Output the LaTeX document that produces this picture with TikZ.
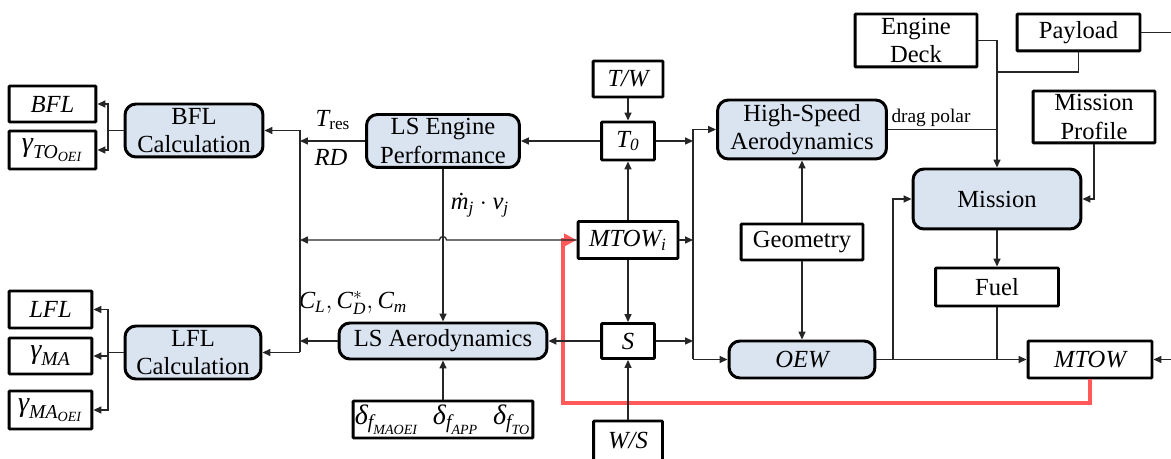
\documentclass[tikz,border=0pt]{standalone}
\usepackage{amsmath}
\usepackage{fontspec}
\setmainfont{Liberation Serif}
\usepackage{tikz}
\usetikzlibrary{arrows.meta}
\definecolor{boxblue}{RGB}{218,227,240}
\newcommand{\vr}[1]{\textit{#1}}

\begin{document}
\begin{tikzpicture}[x=0.02cm, y=-0.02cm,
    every node/.style={font=\fontsize{14}{16}\selectfont, inner sep=1pt, align=center},
    blk/.style={draw, line width=1.7pt, fill=white, rounded corners=0.5pt},
    calcbox/.style={draw, line width=1.7pt, fill=boxblue, rounded corners=0.22cm},
    greek/.style={font=\fontsize{16}{18}\selectfont},
    link/.style={line width=0.7pt, draw=black!85},
    feedback/.style={draw=red!65, line width=2.6pt, -{Triangle[length=7pt,width=7pt]}},
    >={Triangle[length=4.5pt,width=4pt]}]
    \useasboundingbox (0,0) rectangle (1171,459);
    \node[blk, minimum width=1.74cm, minimum height=0.72cm] (bfl) at (52.5,104) {$\vr{BFL}$};
    \node[blk, greek, minimum width=1.74cm, minimum height=0.76cm] (gto) at (52.5,150) {$\vr{γ}_{\vr{TO}_{\vr{OEI}}}$};
    \node[calcbox, minimum width=2.76cm, minimum height=1.06cm] (bflcalc) at (194,130.5) {BFL\\Calculation};
    \node[blk, minimum width=1.66cm, minimum height=0.74cm] (lfl) at (50.5,309.5) {$\vr{LFL}$};
    \node[blk, greek, minimum width=1.66cm, minimum height=0.72cm] (gma) at (50.5,356) {$\vr{γ}_{\vr{MA}}$};
    \node[blk, greek, minimum width=1.66cm, minimum height=0.76cm] (gmaoei) at (50.5,410) {$\vr{γ}_{\vr{MA}_{\vr{OEI}}}$};
    \node[calcbox, minimum width=2.72cm, minimum height=1.06cm] (lflcalc) at (193,352.5) {LFL\\Calculation};
    \node[calcbox, minimum width=3.06cm, minimum height=1.06cm] (lseng) at (443,141) {LS Engine\\Performance};
    \node[calcbox, minimum width=4.16cm, minimum height=0.72cm] (lsaero) at (443,341) {LS Aerodynamics};
    \node[blk, greek, minimum width=3.44cm, minimum height=0.74cm] (delta) at (443,419.5)
        {$\vr{δ}_{\vr{f}_{\vr{MAOEI}}}\enspace \vr{δ}_{\vr{f}_{\vr{APP}}}\enspace \vr{δ}_{\vr{f}_{\vr{TO}}}$};
    \node[blk, minimum width=1.40cm, minimum height=0.72cm] (tw) at (628,79) {$\vr{T/W}$};
    \node[blk, minimum width=1.06cm, minimum height=0.76cm] (t0) at (628,141) {$\vr{T}_{\vr{0}}$};
    \node[blk, minimum width=2.00cm, minimum height=0.74cm] (mtowi) at (628,240) {$\vr{MTOW}_{\vr{i}}$};
    \node[blk, minimum width=1.06cm, minimum height=0.70cm] (s) at (628,341) {$\vr{S}$};
    \node[blk, minimum width=1.38cm, minimum height=0.80cm] (ws) at (628,441) {$\vr{W/S}$};
    \node[calcbox, minimum width=3.38cm, minimum height=1.18cm] (hsa) at (802,129.5) {High-Speed\\Aerodynamics};
    \node[blk, minimum width=2.44cm, minimum height=0.72cm] (geom) at (802,242) {Geometry};
    \node[calcbox, minimum width=2.92cm, minimum height=0.74cm] (oew) at (802,359.5) {$\vr{OEW}$};
    \node[calcbox, minimum width=3.36cm, minimum height=1.20cm] (mission) at (997,199) {Mission};
    \node[blk, minimum width=2.46cm, minimum height=0.76cm] (fuel) at (997,287) {Fuel};
    \node[blk, minimum width=2.48cm, minimum height=0.74cm] (mtow) at (1090,359.5) {$\vr{MTOW}$};
    \node[blk, minimum width=2.44cm, minimum height=1.06cm] (deck) at (916,40.5) {Engine\\Deck};
    \node[blk, minimum width=2.46cm, minimum height=0.74cm] (payload) at (1078.5,32.5) {Payload};
    \node[blk, minimum width=2.44cm, minimum height=1.04cm] (profile) at (1094,117) {Mission\\Profile};
    \node (tres) at (333,120) {$\vr{T}_{\textup{res}}$};
    \node (rd) at (331,157) {$\vr{RD}$};
    \node (mjvj) at (480,205) {$\vr{ṁ}_{\vr{j}}\cdot \vr{v}_{\vr{j}}$};
    \node (coef) at (353,303) {$\vr{C}_{\vr{L}},\vr{C}_{\vr{D}}^{*},\vr{C}_{\vr{m}}$};
    \node[font=\fontsize{11}{13}\selectfont] (drag) at (931,118) {drag polar};
    \coordinate (jb) at (108,130.5);
    \coordinate (jl) at (108,352.5);
    \coordinate (busT) at (300,130.5);
    \coordinate (busB) at (300,352.5);
    \coordinate (busR) at (693,129.5);
    \coordinate (busRB) at (693,359.5);
    \coordinate (hopR) at (446.5,240);
    \coordinate (jp) at (997,72);
    \coordinate (jo) at (893,359.5);
    \coordinate (pr) at (1171,32.5);
    \coordinate (mr) at (1171,359.5);
    \coordinate (rc) at (563,403);
    \draw[feedback] (mtow.south) |- (rc) |- (mtowi.west);
    \draw[link] (bflcalc.west) -- (jb);
    \draw[link,->] (jb) |- (bfl.east);
    \draw[link,->] (jb) |- (gto.east);
    \draw[link] (lflcalc.west) -- (jl);
    \draw[link,->] (jl) |- (lfl.east);
    \draw[link,->] (jl) |- (gma.east);
    \draw[link,->] (jl) |- (gmaoei.east);
    \draw[link] (busT) -- (busB);
    \draw[link,->] (busT) -- (bflcalc.east);
    \draw[link,->] (busB) -- (lflcalc.east);
    \draw[link,->] (lseng.west) -- (lseng.west -| busT);
    \draw[link,->] (lsaero.west) -- (lsaero.west -| busT);
    \draw[link,->] (mtowi.west) -- (hopR) arc[start angle=0, end angle=180, radius=2pt] -- (mtowi.west -| busT);
    \draw[link,->] (lseng.south) -- (lsaero.north);
    \draw[link,->] (delta.north) -- (lsaero.south);
    \draw[link,->] (t0.west) -- (lseng.east);
    \draw[link,->] (tw.south) -- (t0.north);
    \draw[link,->] (mtowi.north) -- (t0.south);
    \draw[link,->] (mtowi.south) -- (s.north);
    \draw[link,->] (ws.north) -- (s.south);
    \draw[link,->] (s.west) -- (lsaero.east);
    \draw[link,->] (t0.east) -- (t0.east -| busR);
    \draw[link,->] (mtowi.east) -- (mtowi.east -| busR);
    \draw[link,->] (s.east) -- (s.east -| busR);
    \draw[link] (busR) -- (busRB);
    \draw[link,->] (busR) -- (hsa.west);
    \draw[link,->] (busRB) -- (oew.west);
    \draw[link,->] (geom.north) -- (hsa.south);
    \draw[link,->] (geom.south) -- (oew.north);
    \draw[link] (hsa.east) -- (hsa.east -| mission.north);
    \draw[link,->] (deck.east) -| (mission.north);
    \draw[link] (payload.south) |- (jp);
    \draw[link] (payload.east) -- (pr);
    \draw[link,->] (profile.south) |- (mission.east);
    \draw[link] (oew.east) -- (jo);
    \draw[link,->] (jo) |- (mission.west);
    \draw[link,->] (jo) -- (mtow.west);
    \draw[link,->] (mission.south) -- (fuel.north);
    \draw[link] (fuel.south) -- (fuel.south |- jo);
    \draw[link,->] (mr) -- (mtow.east);
\end{tikzpicture}
\end{document}
